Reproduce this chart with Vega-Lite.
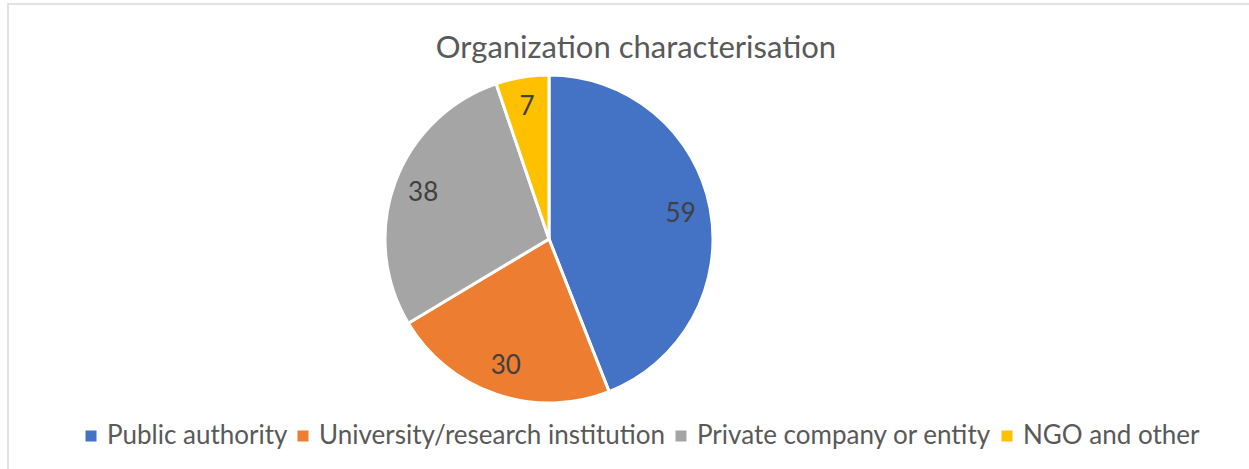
{
  "$schema": "https://vega.github.io/schema/vega-lite/v6.json",
  "width": 1250,
  "height": 470,
  "autosize": {"type": "none"},
  "padding": {"left": 8, "top": 4, "right": 0, "bottom": 0},
  "background": "white",
  "view": {"stroke": "#d9d9d9", "strokeWidth": 1.5, "fill": "white"},
  "config": {
    "view": {"stroke": "#d9d9d9", "strokeWidth": 1.5},
    "font": "Lato"
  },
  "title": {
    "text": "Organization characterisation",
    "font": "Lato",
    "fontSize": 31,
    "fontWeight": "normal",
    "color": "#595959",
    "anchor": "middle",
    "baseline": "alphabetic",
    "offset": -54,
    "dy": 31,
    "dx": 3
  },
  "data": {
    "values": [
      {"category": "Public authority", "count": 59, "order": 1},
      {"category": "University/research institution", "count": 30, "order": 2},
      {"category": "Private company or entity", "count": 38, "order": 3},
      {"category": "NGO and other", "count": 7, "order": 4}
    ]
  },
  "encoding": {
    "theta": {"field": "count", "type": "quantitative", "stack": true},
    "order": {"field": "order", "type": "quantitative"},
    "color": {
      "field": "category",
      "type": "nominal",
      "sort": ["Public authority", "University/research institution", "Private company or entity", "NGO and other"],
      "scale": {
        "domain": ["Public authority", "University/research institution", "Private company or entity", "NGO and other"],
        "range": ["#4472C4", "#ED7D31", "#A5A5A5", "#FFC000"]
      },
      "legend": {
        "title": null,
        "orient": "none",
        "legendX": 70,
        "legendY": 419,
        "direction": "horizontal",
        "symbolType": "square",
        "symbolSize": 121,
        "symbolStrokeWidth": 0,
        "labelFont": "Lato",
        "labelFontSize": 26,
        "labelColor": "#595959",
        "labelOffset": 3,
        "columnPadding": 2,
        "labelLimit": 600
      }
    }
  },
  "layer": [
    {
      "mark": {"type": "arc", "outerRadius": 164, "stroke": "white", "strokeWidth": 3, "x": {"expr": "width*0.4328"}}
    },
    {
      "mark": {"type": "text", "radius": 134, "fontSize": 26, "font": "Lato", "x": {"expr": "width*0.4328"}},
      "encoding": {
        "text": {"field": "count", "type": "quantitative"},
        "color": {"value": "#404040"}
      }
    }
  ]
}
